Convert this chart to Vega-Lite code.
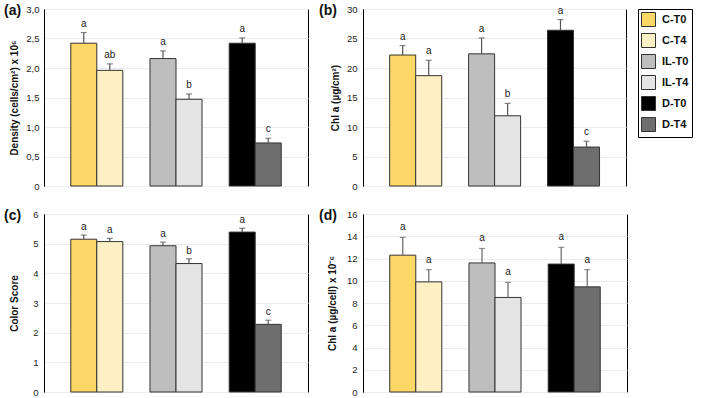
{
  "$schema": "https://vega.github.io/schema/vega-lite/v6.json",
  "background": "white",
  "padding": {"left": 3, "top": 3, "right": 5, "bottom": 4},
  "columns": 2,
  "spacing": {"row": 28, "column": 55},
  "bounds": "flush",
  "resolve": {"legend": {"color": "independent"}},
  "datasets": {
    "d": [
      {"panel": "a", "group": "C", "time": "T0", "key": "C-T0", "value": 2.42, "err": 2.60, "letter": "a"},
      {"panel": "a", "group": "C", "time": "T4", "key": "C-T4", "value": 1.96, "err": 2.07, "letter": "ab"},
      {"panel": "a", "group": "IL", "time": "T0", "key": "IL-T0", "value": 2.16, "err": 2.29, "letter": "a"},
      {"panel": "a", "group": "IL", "time": "T4", "key": "IL-T4", "value": 1.47, "err": 1.56, "letter": "b"},
      {"panel": "a", "group": "D", "time": "T0", "key": "D-T0", "value": 2.42, "err": 2.51, "letter": "a"},
      {"panel": "a", "group": "D", "time": "T4", "key": "D-T4", "value": 0.73, "err": 0.81, "letter": "c"},
      {"panel": "b", "group": "C", "time": "T0", "key": "C-T0", "value": 22.2, "err": 23.8, "letter": "a"},
      {"panel": "b", "group": "C", "time": "T4", "key": "C-T4", "value": 18.7, "err": 21.3, "letter": "a"},
      {"panel": "b", "group": "IL", "time": "T0", "key": "IL-T0", "value": 22.4, "err": 25.1, "letter": "a"},
      {"panel": "b", "group": "IL", "time": "T4", "key": "IL-T4", "value": 11.9, "err": 14.0, "letter": "b"},
      {"panel": "b", "group": "D", "time": "T0", "key": "D-T0", "value": 26.4, "err": 28.2, "letter": "a"},
      {"panel": "b", "group": "D", "time": "T4", "key": "D-T4", "value": 6.6, "err": 7.6, "letter": "c"},
      {"panel": "c", "group": "C", "time": "T0", "key": "C-T0", "value": 5.15, "err": 5.29, "letter": "a"},
      {"panel": "c", "group": "C", "time": "T4", "key": "C-T4", "value": 5.07, "err": 5.18, "letter": "a"},
      {"panel": "c", "group": "IL", "time": "T0", "key": "IL-T0", "value": 4.93, "err": 5.05, "letter": "a"},
      {"panel": "c", "group": "IL", "time": "T4", "key": "IL-T4", "value": 4.33, "err": 4.49, "letter": "b"},
      {"panel": "c", "group": "D", "time": "T0", "key": "D-T0", "value": 5.39, "err": 5.52, "letter": "a"},
      {"panel": "c", "group": "D", "time": "T4", "key": "D-T4", "value": 2.28, "err": 2.42, "letter": "c"},
      {"panel": "d", "group": "C", "time": "T0", "key": "C-T0", "value": 12.3, "err": 13.9, "letter": "a"},
      {"panel": "d", "group": "C", "time": "T4", "key": "C-T4", "value": 9.9, "err": 11.0, "letter": "a"},
      {"panel": "d", "group": "IL", "time": "T0", "key": "IL-T0", "value": 11.6, "err": 12.9, "letter": "a"},
      {"panel": "d", "group": "IL", "time": "T4", "key": "IL-T4", "value": 8.5, "err": 9.85, "letter": "a"},
      {"panel": "d", "group": "D", "time": "T0", "key": "D-T0", "value": 11.5, "err": 13.0, "letter": "a"},
      {"panel": "d", "group": "D", "time": "T4", "key": "D-T4", "value": 9.45, "err": 11.0, "letter": "a"}
    ]
  },
  "concat": [
    {
      "width": 264, "height": 177,
      "title": {"text": "(a)", "anchor": "start", "frame": "group", "orient": "top", "offset": 0, "dx": -40, "dy": 25, "baseline": "alphabetic", "fontSize": 14, "fontWeight": "bold", "font": "Liberation Sans", "color": "#111"},
      "data": {"name": "d"},
      "transform": [{"filter": "datum.panel == 'a'"}],
      "encoding": {
        "x": {"field": "group", "type": "nominal", "sort": ["C", "IL", "D"], "axis": null, "scale": {"paddingInner": 0.343, "paddingOuter": 0.338}},
        "xOffset": {"field": "time", "type": "nominal", "sort": ["T0", "T4"], "scale": {"paddingInner": 0, "paddingOuter": 0}}
      },
      "layer": [
        {"mark": {"type": "bar", "stroke": "#333", "strokeWidth": 1},
         "encoding": {
           "y": {"field": "value", "type": "quantitative", "scale": {"domain": [0, 3], "nice": false}, "axis": {"title": "Density (cells/cm²) x 10⁶", "labelPadding": 5, "values": [0, 0.5, 1, 1.5, 2, 2.5, 3], "labelOverlap": false, "labelExpr": "datum.value == 0 ? '0' : replace(format(datum.value, '.1f'), '.', ',')"}},
           "color": {"field": "key", "type": "nominal", "scale": {"domain": ["C-T0", "C-T4", "IL-T0", "IL-T4", "D-T0", "D-T4"], "range": ["#FDD866", "#FDF0C4", "#BEBEBE", "#E4E4E4", "#000000", "#6E6E6E"]}, "legend": null}
         }},
        {"mark": {"type": "rule", "color": "#555", "strokeWidth": 1.2}, "encoding": {"y": {"field": "value", "type": "quantitative", "axis": {"title": "Density (cells/cm²) x 10⁶", "labelPadding": 5, "values": [0, 0.5, 1, 1.5, 2, 2.5, 3], "labelOverlap": false, "labelExpr": "datum.value == 0 ? '0' : replace(format(datum.value, '.1f'), '.', ',')"}}, "y2": {"field": "err"}}},
        {"mark": {"type": "tick", "color": "#555", "size": 6, "thickness": 1.2, "orient": "horizontal"}, "encoding": {"y": {"field": "err", "type": "quantitative", "axis": {"title": "Density (cells/cm²) x 10⁶", "labelPadding": 5, "values": [0, 0.5, 1, 1.5, 2, 2.5, 3], "labelOverlap": false, "labelExpr": "datum.value == 0 ? '0' : replace(format(datum.value, '.1f'), '.', ',')"}}}},
        {"mark": {"type": "text", "baseline": "alphabetic", "dy": -6, "fontSize": 10, "font": "Liberation Sans", "color": "#222"}, "encoding": {"y": {"field": "err", "type": "quantitative", "axis": {"title": "Density (cells/cm²) x 10⁶", "labelPadding": 5, "values": [0, 0.5, 1, 1.5, 2, 2.5, 3], "labelOverlap": false, "labelExpr": "datum.value == 0 ? '0' : replace(format(datum.value, '.1f'), '.', ',')"}}, "text": {"field": "letter"}}}
      ]
    },
    {
      "width": 263, "height": 177,
      "title": {"text": "(b)", "anchor": "start", "frame": "group", "orient": "top", "offset": 0, "dx": -44, "dy": 25, "baseline": "alphabetic", "fontSize": 14, "fontWeight": "bold", "font": "Liberation Sans", "color": "#111"},
      "data": {"name": "d"},
      "transform": [{"filter": "datum.panel == 'b'"}],
      "encoding": {
        "x": {"field": "group", "type": "nominal", "sort": ["C", "IL", "D"], "axis": null, "scale": {"paddingInner": 0.343, "paddingOuter": 0.338}},
        "xOffset": {"field": "time", "type": "nominal", "sort": ["T0", "T4"], "scale": {"paddingInner": 0, "paddingOuter": 0}}
      },
      "layer": [
        {"mark": {"type": "bar", "stroke": "#333", "strokeWidth": 1},
         "encoding": {
           "y": {"field": "value", "type": "quantitative", "scale": {"domain": [0, 30], "nice": false}, "axis": {"title": "Chl a (µg/cm²)", "values": [0, 5, 10, 15, 20, 25, 30], "labelOverlap": false}},
           "color": {"field": "key", "type": "nominal", "scale": {"domain": ["C-T0", "C-T4", "IL-T0", "IL-T4", "D-T0", "D-T4"], "range": ["#FDD866", "#FDF0C4", "#BEBEBE", "#E4E4E4", "#000000", "#6E6E6E"]},
             "legend": {"orient": "right", "offset": 12, "title": null, "symbolType": "square", "symbolSize": 196, "symbolStrokeColor": "#333", "symbolStrokeWidth": 1, "labelFont": "Liberation Sans", "labelFontSize": 11, "labelFontWeight": "bold", "labelColor": "#111", "labelOffset": 6, "rowPadding": 2, "padding": 3, "strokeColor": "black", "fillColor": "white"}}
         }},
        {"mark": {"type": "rule", "color": "#555", "strokeWidth": 1.2}, "encoding": {"y": {"field": "value", "type": "quantitative", "axis": {"title": "Chl a (µg/cm²)", "values": [0, 5, 10, 15, 20, 25, 30], "labelOverlap": false}}, "y2": {"field": "err"}}},
        {"mark": {"type": "tick", "color": "#555", "size": 6, "thickness": 1.2, "orient": "horizontal"}, "encoding": {"y": {"field": "err", "type": "quantitative", "axis": {"title": "Chl a (µg/cm²)", "values": [0, 5, 10, 15, 20, 25, 30], "labelOverlap": false}}}},
        {"mark": {"type": "text", "baseline": "alphabetic", "dy": -6, "fontSize": 10, "font": "Liberation Sans", "color": "#222"}, "encoding": {"y": {"field": "err", "type": "quantitative", "axis": {"title": "Chl a (µg/cm²)", "values": [0, 5, 10, 15, 20, 25, 30], "labelOverlap": false}}, "text": {"field": "letter"}}}
      ]
    },
    {
      "width": 264, "height": 178,
      "title": {"text": "(c)", "anchor": "start", "frame": "group", "orient": "top", "offset": 0, "dx": -40, "dy": 25, "baseline": "alphabetic", "fontSize": 14, "fontWeight": "bold", "font": "Liberation Sans", "color": "#111"},
      "data": {"name": "d"},
      "transform": [{"filter": "datum.panel == 'c'"}],
      "encoding": {
        "x": {"field": "group", "type": "nominal", "sort": ["C", "IL", "D"], "axis": null, "scale": {"paddingInner": 0.343, "paddingOuter": 0.338}},
        "xOffset": {"field": "time", "type": "nominal", "sort": ["T0", "T4"], "scale": {"paddingInner": 0, "paddingOuter": 0}}
      },
      "layer": [
        {"mark": {"type": "bar", "stroke": "#333", "strokeWidth": 1},
         "encoding": {
           "y": {"field": "value", "type": "quantitative", "scale": {"domain": [0, 6], "nice": false}, "axis": {"title": "Color Score", "titlePadding": 13, "values": [0, 1, 2, 3, 4, 5, 6], "labelOverlap": false}},
           "color": {"field": "key", "type": "nominal", "scale": {"domain": ["C-T0", "C-T4", "IL-T0", "IL-T4", "D-T0", "D-T4"], "range": ["#FDD866", "#FDF0C4", "#BEBEBE", "#E4E4E4", "#000000", "#6E6E6E"]}, "legend": null}
         }},
        {"mark": {"type": "rule", "color": "#555", "strokeWidth": 1.2}, "encoding": {"y": {"field": "value", "type": "quantitative", "axis": {"title": "Color Score", "titlePadding": 13, "values": [0, 1, 2, 3, 4, 5, 6], "labelOverlap": false}}, "y2": {"field": "err"}}},
        {"mark": {"type": "tick", "color": "#555", "size": 6, "thickness": 1.2, "orient": "horizontal"}, "encoding": {"y": {"field": "err", "type": "quantitative", "axis": {"title": "Color Score", "titlePadding": 13, "values": [0, 1, 2, 3, 4, 5, 6], "labelOverlap": false}}}},
        {"mark": {"type": "text", "baseline": "alphabetic", "dy": -5, "fontSize": 10, "font": "Liberation Sans", "color": "#222"}, "encoding": {"y": {"field": "err", "type": "quantitative", "axis": {"title": "Color Score", "titlePadding": 13, "values": [0, 1, 2, 3, 4, 5, 6], "labelOverlap": false}}, "text": {"field": "letter"}}}
      ]
    },
    {
      "width": 264, "height": 178,
      "title": {"text": "(d)", "anchor": "start", "frame": "group", "orient": "top", "offset": 0, "dx": -44, "dy": 25, "baseline": "alphabetic", "fontSize": 14, "fontWeight": "bold", "font": "Liberation Sans", "color": "#111"},
      "data": {"name": "d"},
      "transform": [{"filter": "datum.panel == 'd'"}],
      "encoding": {
        "x": {"field": "group", "type": "nominal", "sort": ["C", "IL", "D"], "axis": null, "scale": {"paddingInner": 0.343, "paddingOuter": 0.338}},
        "xOffset": {"field": "time", "type": "nominal", "sort": ["T0", "T4"], "scale": {"paddingInner": 0, "paddingOuter": 0}}
      },
      "layer": [
        {"mark": {"type": "bar", "stroke": "#333", "strokeWidth": 1},
         "encoding": {
           "y": {"field": "value", "type": "quantitative", "scale": {"domain": [0, 16], "nice": false}, "axis": {"title": "Chl a (µg/cell) x 10⁻⁶", "titlePadding": 9, "values": [0, 2, 4, 6, 8, 10, 12, 14, 16], "labelOverlap": false}},
           "color": {"field": "key", "type": "nominal", "scale": {"domain": ["C-T0", "C-T4", "IL-T0", "IL-T4", "D-T0", "D-T4"], "range": ["#FDD866", "#FDF0C4", "#BEBEBE", "#E4E4E4", "#000000", "#6E6E6E"]}, "legend": null}
         }},
        {"mark": {"type": "rule", "color": "#666", "strokeWidth": 1.2}, "encoding": {"y": {"field": "value", "type": "quantitative", "axis": {"title": "Chl a (µg/cell) x 10⁻⁶", "titlePadding": 9, "values": [0, 2, 4, 6, 8, 10, 12, 14, 16], "labelOverlap": false}}, "y2": {"field": "err"}}},
        {"mark": {"type": "tick", "color": "#666", "size": 6, "thickness": 1.2, "orient": "horizontal"}, "encoding": {"y": {"field": "err", "type": "quantitative", "axis": {"title": "Chl a (µg/cell) x 10⁻⁶", "titlePadding": 9, "values": [0, 2, 4, 6, 8, 10, 12, 14, 16], "labelOverlap": false}}}},
        {"mark": {"type": "text", "baseline": "alphabetic", "dy": -7, "fontSize": 10, "font": "Liberation Sans", "color": "#222"}, "encoding": {"y": {"field": "err", "type": "quantitative", "axis": {"title": "Chl a (µg/cell) x 10⁻⁶", "titlePadding": 9, "values": [0, 2, 4, 6, 8, 10, 12, 14, 16], "labelOverlap": false}}, "text": {"field": "letter"}}}
      ]
    }
  ],
  "config": {
    "view": {"stroke": "black", "strokeWidth": 1},
    "axis": {"labelFont": "Liberation Sans", "titleFont": "Liberation Sans"},
    "axisY": {"ticks": false, "domainColor": "black", "gridColor": "#ebebeb", "labelFontSize": 9.5, "labelColor": "#222", "labelPadding": 6, "labelOverlap": false, "titleFontSize": 10, "titleFontWeight": "bold", "titleColor": "#111", "titlePadding": 6}
  }
}
